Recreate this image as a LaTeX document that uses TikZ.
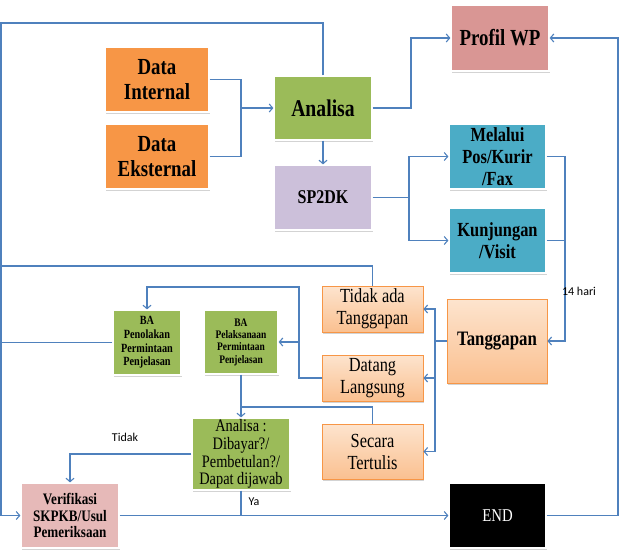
\documentclass[tikz,border=0pt]{standalone}
\usepackage{fontspec}
\setmainfont[FakeStretch=0.82]{Liberation Serif}
\newfontfamily\lblfont{Carlito}
\usetikzlibrary{arrows.meta,shadows}

\definecolor{alur}{HTML}{4F81BD}
\definecolor{oranye}{HTML}{F79646}
\definecolor{hijau}{HTML}{9BBB59}
\definecolor{ungu}{HTML}{CCC0DA}
\definecolor{merah}{HTML}{D99694}
\definecolor{biru}{HTML}{4BACC6}
\definecolor{merahmuda}{HTML}{E6B9B8}
\definecolor{persik}{HTML}{FDE4CE}
\definecolor{persiktua}{HTML}{FAC090}

\newcommand{\fs}[2]{\fontsize{#1}{#2}\selectfont}

\begin{document}
\begin{tikzpicture}[x=1pt,y=-1pt,
	box/.style = {rectangle, draw=white, line width=1.2pt, inner sep=0pt, align=center,
		drop shadow={shadow xshift=1pt, shadow yshift=-2pt, opacity=.35}},
	tbox/.style = {rectangle, draw=oranye, line width=0.8pt, inner sep=0pt, align=center,
		top color=persik, bottom color=persiktua,
		drop shadow={shadow xshift=1pt, shadow yshift=-2pt, opacity=.35}},
	line/.style = {draw=alur, line width=1.1pt},
	arr/.style = {line, -{Straight Barb[length=3.5pt,width=8pt]}},
	lbl/.style = {font=\lblfont\fs{12}{14}, inner sep=0pt}]
	
	\useasboundingbox (0,0) rectangle (620,557);
	
	% kotak
	\node[box,fill=oranye,minimum width=104,minimum height=65,font=\fs{23}{25}\bfseries] (intern) at (157,79.5) {Data\\Internal};
	\node[box,fill=oranye,minimum width=104,minimum height=65,font=\fs{23}{25}\bfseries] (ekstern) at (157,156.5) {Data\\Eksternal};
	\node[box,fill=hijau,minimum width=98,minimum height=64,font=\fs{24}{26}\bfseries] (analisa) at (323,108) {Analisa};
	\node[box,fill=ungu,minimum width=98,minimum height=65,font=\fs{19.5}{22}\bfseries] (sp2dk) at (323,197.5) {SP2DK};
	\node[box,fill=merah,minimum width=98,minimum height=66,font=\fs{23}{25}\bfseries] (profil) at (500,38) {Profil WP};
	\node[box,fill=biru,minimum width=97,minimum height=65,font=\fs{20}{22}\bfseries] (pos) at (497.5,156.5) {Melalui\\Pos/Kurir\\/Fax};
	\node[box,fill=biru,minimum width=97,minimum height=65,font=\fs{20}{22}\bfseries] (visit) at (497.5,240.5) {Kunjungan\\/Visit};
	\node[tbox,minimum width=100,minimum height=84,font=\fs{20.5}{22}\bfseries] (tanggapan) at (497,341) {Tanggapan};
	\node[tbox,minimum width=101,minimum height=46,font=\fs{20}{22}] (tidak) at (372.5,309) {Tidak ada\\Tanggapan};
	\node[tbox,minimum width=101,minimum height=46,font=\fs{20}{22}] (datang) at (372.5,378) {Datang\\Langsung};
	\node[tbox,minimum width=101,minimum height=55,font=\fs{20}{22}] (tertulis) at (372.5,451.5) {Secara\\Tertulis};
	\node[box,fill=hijau,minimum width=68,minimum height=65,font=\fs{12.5}{13.7}\bfseries] (bapen) at (147,342.5) {BA\\Penolakan\\Permintaan\\Penjelasan};
	\node[box,fill=hijau,minimum width=74,minimum height=64,font=\fs{11.5}{12.3}\bfseries] (bapel) at (241,342) {BA\\Pelaksanaan\\Permintaan\\Penjelasan};
	\node[box,fill=hijau,minimum width=98,minimum height=72,font=\fs{17.5}{17.7}] (analisa2) at (241,454) {Analisa :\\Dibayar?/\\Pembetulan?/\\Dapat dijawab};
	\node[box,fill=merahmuda,minimum width=98,minimum height=65,font=\fs{16}{16.7}\bfseries] (verif) at (70,515.5) {Verifikasi\\SKPKB/Usul\\Pemeriksaan};
	\node[box,fill=black,text=white,minimum width=97,minimum height=65,font=\fs{18}{20}] (end) at (497.5,515.5) {END};
	
	% titik belok
	\coordinate (jdata) at (241,108);
	\coordinate (kiri) at (1,23);
	\coordinate (jprofil) at (411,108);
	\coordinate (jsp) at (409,197.5);
	\coordinate (j14) at (565,240.5);
	\coordinate (jt) at (435,341);
	\coordinate (jba) at (299,342);
	\coordinate (jbatop) at (299,287);
	\coordinate (jan) at (241,407);
	\coordinate (jya) at (241,515.5);
	\coordinate (kanan) at (618,38);
	
	% garis
	\draw[line] (intern.east) -| (jdata);
	\draw[line] (ekstern.east) -| (jdata);
	\draw[arr] (jdata) -- (analisa.west);
	\draw[arr] (analisa.north) |- (kiri) |- (verif.west);
	\draw[arr] (analisa.south) -- (sp2dk.north);
	\draw[arr] (analisa.east) -- (jprofil) |- (profil.west);
	\draw[line] (sp2dk.east) -- (jsp);
	\draw[arr] (jsp) |- (pos.west);
	\draw[arr] (jsp) |- (visit.west);
	\draw[line] (visit.east) -- (j14);
	\draw[arr] (pos.east) -| (j14) |- (tanggapan.east);
	\node[lbl] (hari) at (579,291) {14 hari};
	\draw[line] (tanggapan.west) -- (jt);
	\draw[arr] (jt) |- (tidak.east);
	\draw[arr] (jt) |- (datang.east);
	\draw[arr] (jt) |- (tertulis.east);
	\draw[line] (tidak.north) |- (kiri |- 0,266);
	\draw[line] (datang.west) -| (jba);
	\draw[arr] (jba) -- (bapel.east);
	\draw[arr] (jba) -- (jbatop) -| (bapen.north);
	\draw[line] (bapen.west) -- (bapen.west -| kiri);
	\draw[arr] (bapel.south) -- (analisa2.north);
	\draw[line] (tertulis.north) |- (jan);
	\draw[arr] (analisa2.west) -| (verif.north);
	\node[lbl] (tdk) at (125,437) {Tidak};
	\draw[line] (analisa2.south) -- (jya);
	\node[lbl] (ya) at (254,502) {Ya};
	\draw[arr] (verif.east) -- (end.west);
	\draw[arr] (end.east) -| (kanan) -- (profil.east);
\end{tikzpicture}
\end{document}
